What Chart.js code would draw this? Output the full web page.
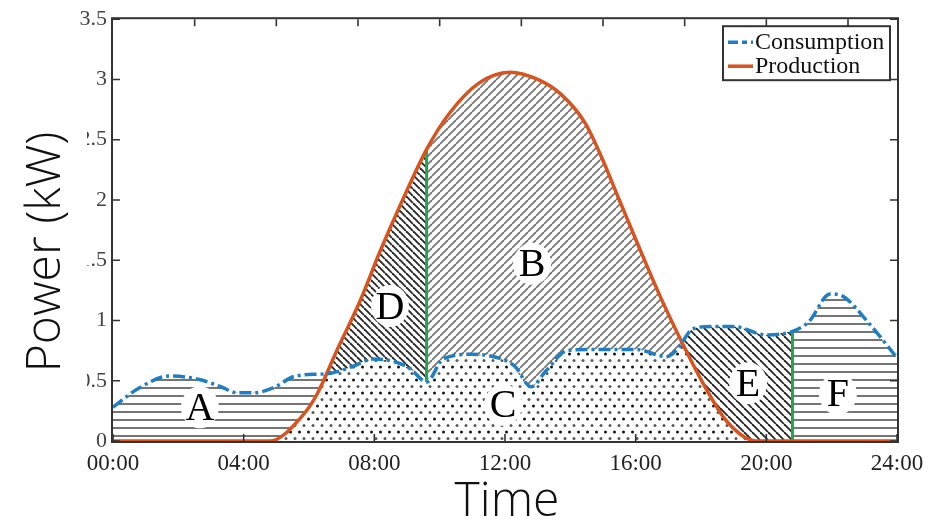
<!DOCTYPE html>
<html>
<head>
<meta charset="utf-8">
<script src="https://cdn.jsdelivr.net/npm/chart.js@4"></script>
<style>
  html, body { margin: 0; padding: 0; background: #fff; }
</style>
</head>
<body>
<canvas id="chart" width="939" height="522"></canvas>
<script>
// Values (hours of day, kW)
const consHours = [0, 0.8, 1.75, 2.65, 3.3, 3.8, 4.3, 4.9, 5.6, 6.6, 7.35, 7.95, 8.6, 9.1, 9.6, 10.1, 11.0, 11.9, 12.3, 12.8,
  13.25, 13.9, 14.7, 16.0, 16.95, 17.27, 17.75, 18.3, 19.0, 20.0, 20.8, 21.3, 21.95, 22.35, 23.1, 24];
const consKw = [0.28, 0.44, 0.54, 0.51, 0.45, 0.40, 0.40, 0.44, 0.54, 0.56, 0.62, 0.68, 0.66, 0.60, 0.49, 0.68, 0.72, 0.68, 0.62, 0.45,
  0.58, 0.75, 0.76, 0.76, 0.70, 0.76, 0.93, 0.95, 0.95, 0.88, 0.91, 0.99, 1.22, 1.20, 0.99, 0.69];
const prodHours = [0, 4.8, 5.8, 6.25, 6.85, 7.56, 8.17, 8.8, 9.6, 10.3, 11.2, 12.15, 13.0, 13.7, 14.45, 14.9, 15.5, 16.1,
  16.75, 17.45, 18.06, 18.8, 19.7, 24];
const prodKw = [0, 0, 0.21, 0.39, 0.75, 1.16, 1.57, 1.96, 2.42, 2.72, 2.97, 3.06, 3.0, 2.88, 2.64, 2.39, 2.0, 1.61,
  1.2, 0.8, 0.48, 0.16, 0, 0];

// green dividers between the hatched areas
const splitHours = [9.6, 20.8];

const xTickHours = [0, 4, 8, 12, 16, 20, 24];
const xTickLabels = ['00:00', '04:00', '08:00', '12:00', '16:00', '20:00', '24:00'];
const topTickHours = [2.5, 5, 7.5, 10, 12.5, 15, 17.5, 20, 22.5];
const yTicks = [0, 0.5, 1, 1.5, 2, 2.5, 3, 3.5];

const areaLabels = ['A', 'B', 'C', 'D', 'E', 'F'];
const areaLabelHours = [2.66, 12.83, 11.94, 8.48, 19.44, 22.19];
const areaLabelKw = [0.28, 1.47, 0.30, 1.12, 0.48, 0.39];

const canvas = document.getElementById('chart');
const ctx = canvas.getContext('2d');

// Fill patterns (white background so they cover the dots below)
function makePattern(w, h, draw) {
  const c = document.createElement('canvas');
  c.width = w;
  c.height = h;
  const g = c.getContext('2d');
  g.fillStyle = '#fff';
  g.fillRect(0, 0, w, h);
  draw(g, w, h);
  return ctx.createPattern(c, 'repeat');
}

function diagonal(g, s, dir) {
  for (let k = -1; k <= 1; k++) {
    g.beginPath();
    if (dir > 0) { g.moveTo(k * s, s); g.lineTo(k * s + s, 0); }
    else { g.moveTo(k * s, 0); g.lineTo(k * s + s, s); }
    g.stroke();
  }
}

const horizPattern = makePattern(8, 8, g => {
  g.strokeStyle = '#3a3a3a';
  g.lineWidth = 1.4;
  g.beginPath(); g.moveTo(0, 4); g.lineTo(8, 4); g.stroke();
});
const backDark = makePattern(7, 7, g => {
  g.strokeStyle = '#2a2a2a';
  g.lineWidth = 1.9;
  diagonal(g, 7, -1);
});
const backE = makePattern(8, 8, g => {
  g.strokeStyle = '#2a2a2a';
  g.lineWidth = 1.9;
  diagonal(g, 8, -1);
});
const slashGrey = makePattern(8, 8, g => {
  g.strokeStyle = '#7a7a7a';
  g.lineWidth = 1.9;
  diagonal(g, 8, 1);
});
const dotPattern = makePattern(9, 13, g => {
  g.fillStyle = '#151515';
  g.beginPath(); g.arc(2.5, 3, 1.5, 0, Math.PI * 2); g.fill();
  g.fillStyle = '#5a5a5a';
  g.beginPath(); g.arc(7, 9.5, 1.5, 0, Math.PI * 2); g.fill();
});

// Build point lists
const toPoints = (hs, vs) => hs.map((h, i) => ({ x: h, y: vs[i] }));
const consPts = toPoints(consHours, consKw);
const prodPts = toPoints(prodHours, prodKw);
const iSplit1 = consHours.indexOf(splitHours[0]);
const iSplit2 = consHours.indexOf(splitHours[1]);
const prodAtSplit1 = prodKw[prodHours.indexOf(splitHours[0])];

const regionBase = {
  borderWidth: 0,
  pointRadius: 0,
  cubicInterpolationMode: 'monotone'
};

const datasets = [
  {
    label: 'Consumption',
    data: consPts,
    borderColor: '#1f7fc4',
    borderWidth: 3.5,
    borderDash: [12, 4, 3, 4],
    pointRadius: 0,
    fill: false,
    cubicInterpolationMode: 'monotone'
  },
  {
    label: 'Production',
    data: prodPts,
    borderColor: '#d9531e',
    borderWidth: 3.5,
    pointRadius: 0,
    fill: false,
    cubicInterpolationMode: 'monotone'
  },
  {
    label: 'split1',
    data: [{ x: splitHours[0], y: consKw[iSplit1] }, { x: splitHours[0], y: prodAtSplit1 }],
    borderColor: '#1fa84c',
    borderWidth: 3,
    pointRadius: 0,
    tension: 0,
    fill: false
  },
  {
    label: 'split2',
    data: [{ x: splitHours[1], y: 0 }, { x: splitHours[1], y: consKw[iSplit2] }],
    borderColor: '#1fa84c',
    borderWidth: 3,
    pointRadius: 0,
    tension: 0,
    fill: false
  },
  // A / D
  Object.assign({ label: 'AD', data: consPts.slice(0, iSplit1 + 1),
    fill: { target: 1, above: horizPattern, below: backDark } }, regionBase),
  // E / B
  Object.assign({ label: 'BE', data: consPts.slice(iSplit1, iSplit2 + 1),
    fill: { target: 1, above: backE, below: slashGrey } }, regionBase),
  // F
  Object.assign({ label: 'F', data: consPts.slice(iSplit2),
    fill: { target: 1, above: horizPattern, below: horizPattern } }, regionBase),
  // C (dots under consumption, overlaid by the above)
  Object.assign({ label: 'C', data: consPts,
    fill: { target: 'origin' }, backgroundColor: dotPattern }, regionBase)
];

const frameColor = '#333';

// frame just outside the plot area, inward ticks and area letters
const framePlugin = {
  id: 'frame',
  beforeDatasetsDraw(chart) {
    const a = chart.chartArea;
    const c = chart.ctx;
    c.save();
    c.strokeStyle = frameColor;
    c.lineWidth = 2;
    c.strokeRect(a.left - 1, a.top - 1, a.right - a.left + 2, a.bottom - a.top + 2);
    c.restore();
  },
  afterDatasetsDraw(chart) {
    const a = chart.chartArea;
    const c = chart.ctx;
    const xs = chart.scales.x, ys = chart.scales.y;
    const len = 7;
    c.save();
    c.strokeStyle = frameColor;
    c.lineWidth = 1.6;
    c.beginPath();
    xTickHours.forEach(h => {
      const px = xs.getPixelForValue(h);
      c.moveTo(px, a.bottom); c.lineTo(px, a.bottom - len);
    });
    topTickHours.forEach(h => {
      const px = xs.getPixelForValue(h);
      c.moveTo(px, a.top); c.lineTo(px, a.top + len);
    });
    yTicks.forEach(v => {
      const py = ys.getPixelForValue(v);
      c.moveTo(a.left, py); c.lineTo(a.left + len, py);
      c.moveTo(a.right, py); c.lineTo(a.right - len, py);
    });
    c.stroke();

    c.font = '40px "Liberation Serif"';
    c.textAlign = 'center';
    c.textBaseline = 'middle';
    areaLabels.forEach((t, i) => {
      const px = xs.getPixelForValue(areaLabelHours[i]);
      const py = ys.getPixelForValue(areaLabelKw[i]);
      c.fillStyle = '#fff';
      c.beginPath();
      c.ellipse(px, py, 19, 21, 0, 0, Math.PI * 2);
      c.fill();
      c.fillStyle = '#000';
      c.fillText(t, px, py + 2);
    });
    c.restore();
  }
};

// legend box and axis titles
const overlayPlugin = {
  id: 'overlay',
  afterDraw(chart) {
    const a = chart.chartArea;
    const c = chart.ctx;
    const w = 167, h = 54;
    const x = a.right - 7 - w, y = a.top + 7;
    c.save();
    c.fillStyle = '#fff';
    c.fillRect(x, y, w, h);
    c.strokeStyle = frameColor;
    c.lineWidth = 2;
    c.strokeRect(x, y, w, h);
    c.font = '24px "Liberation Serif"';
    c.textBaseline = 'middle';
    c.textAlign = 'left';
    [0, 1].forEach((di, row) => {
      const ds = chart.data.datasets[di];
      const ry = y + 16 + row * 24;
      c.strokeStyle = ds.borderColor;
      c.lineWidth = 3.5;
      c.setLineDash(ds.borderDash ? [10, 4, 5, 4] : []);
      c.beginPath(); c.moveTo(x + 5, ry); c.lineTo(x + 30, ry); c.stroke();
      c.setLineDash([]);
      c.fillStyle = '#111';
      c.fillText(ds.label, x + 32, ry + 1);
    });

    // axis titles with white boxes, as in the figure
    c.fillStyle = '#fff';
    c.fillRect(0, 110, 87, 284);
    c.fillStyle = '#111';
    c.font = '300 48px "Open Sans"';
    c.textAlign = 'center';
    c.textBaseline = 'middle';
    c.save();
    c.translate(46, 252);
    c.rotate(-Math.PI / 2);
    c.fillText('Power (kW)', 0, 0);
    c.restore();
    c.textBaseline = 'alphabetic';
    c.fillText('Time', (a.left + a.right) / 2 + 2, 516);
    c.restore();
  }
};

new Chart(ctx, {
  type: 'line',
  data: { datasets: datasets },
  options: {
    responsive: false,
    animation: false,
    events: [],
    layout: { padding: { top: 15, right: 42, left: 0, bottom: 0 } },
    plugins: {
      legend: { display: false },
      tooltip: { enabled: false }
    },
    scales: {
      x: {
        type: 'linear',
        min: 0,
        max: 24,
        grid: { display: false, drawTicks: false },
        border: { display: false },
        afterBuildTicks: s => { s.ticks = xTickHours.map(v => ({ value: v })); },
        afterFit: s => { s.height = 81; },
        ticks: {
          padding: 9,
          color: '#222',
          font: { family: '"Liberation Serif"', size: 23 },
          maxRotation: 0,
          callback: v => xTickLabels[xTickHours.indexOf(v)]
        }
      },
      y: {
        min: 0,
        max: 3.5,
        grid: { display: false, drawTicks: false },
        border: { display: false },
        afterBuildTicks: s => { s.ticks = yTicks.map(v => ({ value: v })); },
        afterFit: s => { s.width = 113; },
        ticks: {
          padding: 6,
          color: '#444',
          font: { family: '"Liberation Serif"', size: 22 },
          callback: v => String(v)
        }
      }
    }
  },
  plugins: [framePlugin, overlayPlugin]
});
</script>
</body>
</html>
